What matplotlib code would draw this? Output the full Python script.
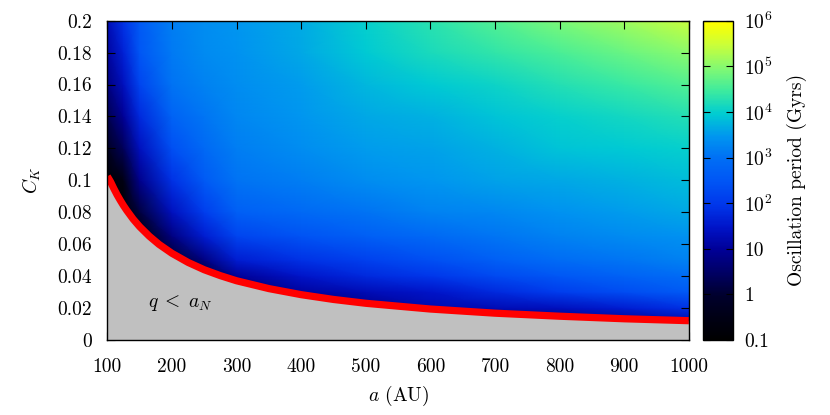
import numpy as np
import matplotlib
matplotlib.use("Agg")
import matplotlib.pyplot as plt
from matplotlib.colors import LinearSegmentedColormap, Normalize

plt.rcParams['font.family'] = 'serif'
plt.rcParams['font.serif'] = ['cmr10']
plt.rcParams['mathtext.fontset'] = 'cm'
plt.rcParams['axes.formatter.use_mathtext'] = True
plt.rcParams['font.size'] = 14

# grid of the period map, log10 of period in Gyrs
a_grid = [100, 125, 150, 200, 250, 300, 400, 500, 600, 700, 800, 900, 1000]
ck_grid = [0.01, 0.02, 0.03, 0.04, 0.05, 0.065, 0.08, 0.10, 0.12, 0.14, 0.16, 0.18, 0.20]
logp_ck001 = [-2.5, -2.5, -2.5, -2.5, -2.5, -2.5, -2.0, -1.2, -0.3, 0.4, 0.7, 0.9, 1.1]
logp_ck002 = [-2.5, -2.5, -2.5, -2.5, -2.0, -1.0, 0.4, 0.9, 1.25, 1.3, 1.4, 1.65, 1.9]
logp_ck003 = [-2.5, -2.5, -2.5, -1.3, -0.8, 0.5, 1.1, 1.3, 1.5, 1.8, 2.1, 2.35, 2.6]
logp_ck004 = [-2.5, -2.5, -2.5, -0.8, 0.1, 1.0, 1.5, 1.8, 2.0, 2.3, 2.55, 2.75, 2.95]
logp_ck005 = [-2.5, -2.5, -2.5, 0.0, 0.8, 1.6, 1.9, 2.15, 2.4, 2.7, 2.95, 3.1, 3.25]
logp_ck0065 = [-2.5, -2.0, -1.5, 0.8, 1.6, 2.2, 2.45, 2.7, 2.9, 3.1, 3.25, 3.35, 3.45]
logp_ck008 = [-2.0, -1.5, 0.15, 1.4, 2.1, 2.7, 2.9, 3.05, 3.25, 3.3, 3.45, 3.55, 3.65]
logp_ck010 = [-1.2, -0.5, 0.9, 1.9, 2.6, 3.05, 3.2, 3.4, 3.5, 3.6, 3.65, 3.75, 3.85]
logp_ck012 = [-0.25, 0.4, 1.4, 2.4, 2.9, 3.2, 3.4, 3.55, 3.6, 3.75, 3.9, 3.95, 4.05]
logp_ck014 = [0.3, 1.0, 1.8, 2.8, 3.1, 3.3, 3.5, 3.65, 3.75, 3.9, 4.05, 4.15, 4.3]
logp_ck016 = [0.8, 1.4, 2.2, 3.05, 3.25, 3.4, 3.55, 3.8, 3.95, 4.1, 4.3, 4.45, 4.65]
logp_ck018 = [1.1, 1.7, 2.5, 3.15, 3.35, 3.45, 3.65, 3.95, 4.2, 4.4, 4.6, 4.8, 5.05]
logp_ck020 = [1.35, 1.95, 2.6, 3.2, 3.4, 3.5, 3.7, 4.05, 4.35, 4.65, 4.95, 5.2, 5.5]

# q = a_N boundary
a_curve = [100, 105, 110, 115, 120, 125, 130, 140, 150, 165, 180, 200, 225, 250,
           275, 300, 350, 400, 450, 500, 600, 700, 800, 900, 1000]
ck_curve = [0.1025, 0.0991, 0.0949, 0.0910, 0.0875, 0.0842, 0.0812, 0.0757,
            0.0710, 0.0650, 0.0599, 0.0543, 0.0486, 0.0440, 0.0403, 0.0371,
            0.0322, 0.0284, 0.0254, 0.0230, 0.0194, 0.0168, 0.0149, 0.0133, 0.0121]

# palette
pal_levels = [-1, -0.5, 0, 0.5, 1, 1.5, 2, 2.5, 3, 3.5, 4, 4.5, 5, 5.5, 6]
pal_colors = ['#000000', '#000014', '#00002d', '#000064', '#000096', '#0014c8',
              '#0037eb', '#0055f5', '#006ef5', '#0096f0', '#00cdd2', '#3ceba0',
              '#82fa73', '#c8ff3c', '#ffff00']

cbar_ticks = [-1, 0, 1, 2, 3, 4, 5, 6]
cbar_labels = ['0.1', '1', '10', r'$10^2$', r'$10^3$', r'$10^4$', r'$10^5$', r'$10^6$']
x_ticks = [100, 200, 300, 400, 500, 600, 700, 800, 900, 1000]
y_ticks = [0, 0.02, 0.04, 0.06, 0.08, 0.1, 0.12, 0.14, 0.16, 0.18, 0.2]
y_labels = ['0', '0.02', '0.04', '0.06', '0.08', '0.1', '0.12', '0.14', '0.16', '0.18', '0.2']

vmin, vmax = pal_levels[0], pal_levels[-1]
cmap = LinearSegmentedColormap.from_list(
    'osc', [((v - vmin) / (vmax - vmin), c) for v, c in zip(pal_levels, pal_colors)])
norm = Normalize(vmin, vmax)

Z = np.array([logp_ck001, logp_ck002, logp_ck003, logp_ck004, logp_ck005,
              logp_ck0065, logp_ck008, logp_ck010, logp_ck012, logp_ck014,
              logp_ck016, logp_ck018, logp_ck020])
A, CK = np.meshgrid(a_grid, ck_grid)

fig = plt.figure(figsize=(8.3, 4.15), dpi=100)
ax = fig.add_axes([0.1293, 0.1807, 0.7007, 0.7695])
cax = fig.add_axes([0.847, 0.1807, 0.0361, 0.7695])

mesh = ax.pcolormesh(A, CK, Z, shading='gouraud', cmap=cmap, norm=norm,
                     zorder=0, rasterized=True)
ax.fill_between(a_curve, 0, ck_curve, color='#c0c0c0', lw=0, zorder=3)
ax.plot(a_curve, ck_curve, color='red', lw=5.2, zorder=4, solid_capstyle='butt')
ax.text(163, 0.023, r'$q\;<\;a_N$', fontsize=14, va='center', zorder=5)

ax.set_xlim(100, 1000)
ax.set_ylim(0, 0.2)
ax.set_xticks(x_ticks)
ax.set_xticklabels([str(x) for x in x_ticks])
ax.set_yticks(y_ticks)
ax.set_yticklabels(y_labels)
ax.tick_params(direction='in', top=True, right=True, length=6, width=0.8)
ax.tick_params(axis='x', pad=13)
ax.tick_params(axis='y', pad=11)
ax.set_xlabel(r'$a$ (AU)', labelpad=6)
ax.set_ylabel(r'$C_K$', labelpad=10)
for s in ax.spines.values():
    s.set_zorder(10)
    s.set_linewidth(1.0)

cb = fig.colorbar(mesh, cax=cax, ticks=cbar_ticks)
cb.set_ticklabels(cbar_labels)
cb.solids.set_alpha(0.88)
cb.solids.set_edgecolor('face')
cax.tick_params(direction='in', left=True, right=True, length=5, width=0.8, pad=8)
cb.set_label('Oscillation period (Gyrs)', labelpad=10)
cb.outline.set_linewidth(1.0)

fig.savefig('out.png', dpi=100)
